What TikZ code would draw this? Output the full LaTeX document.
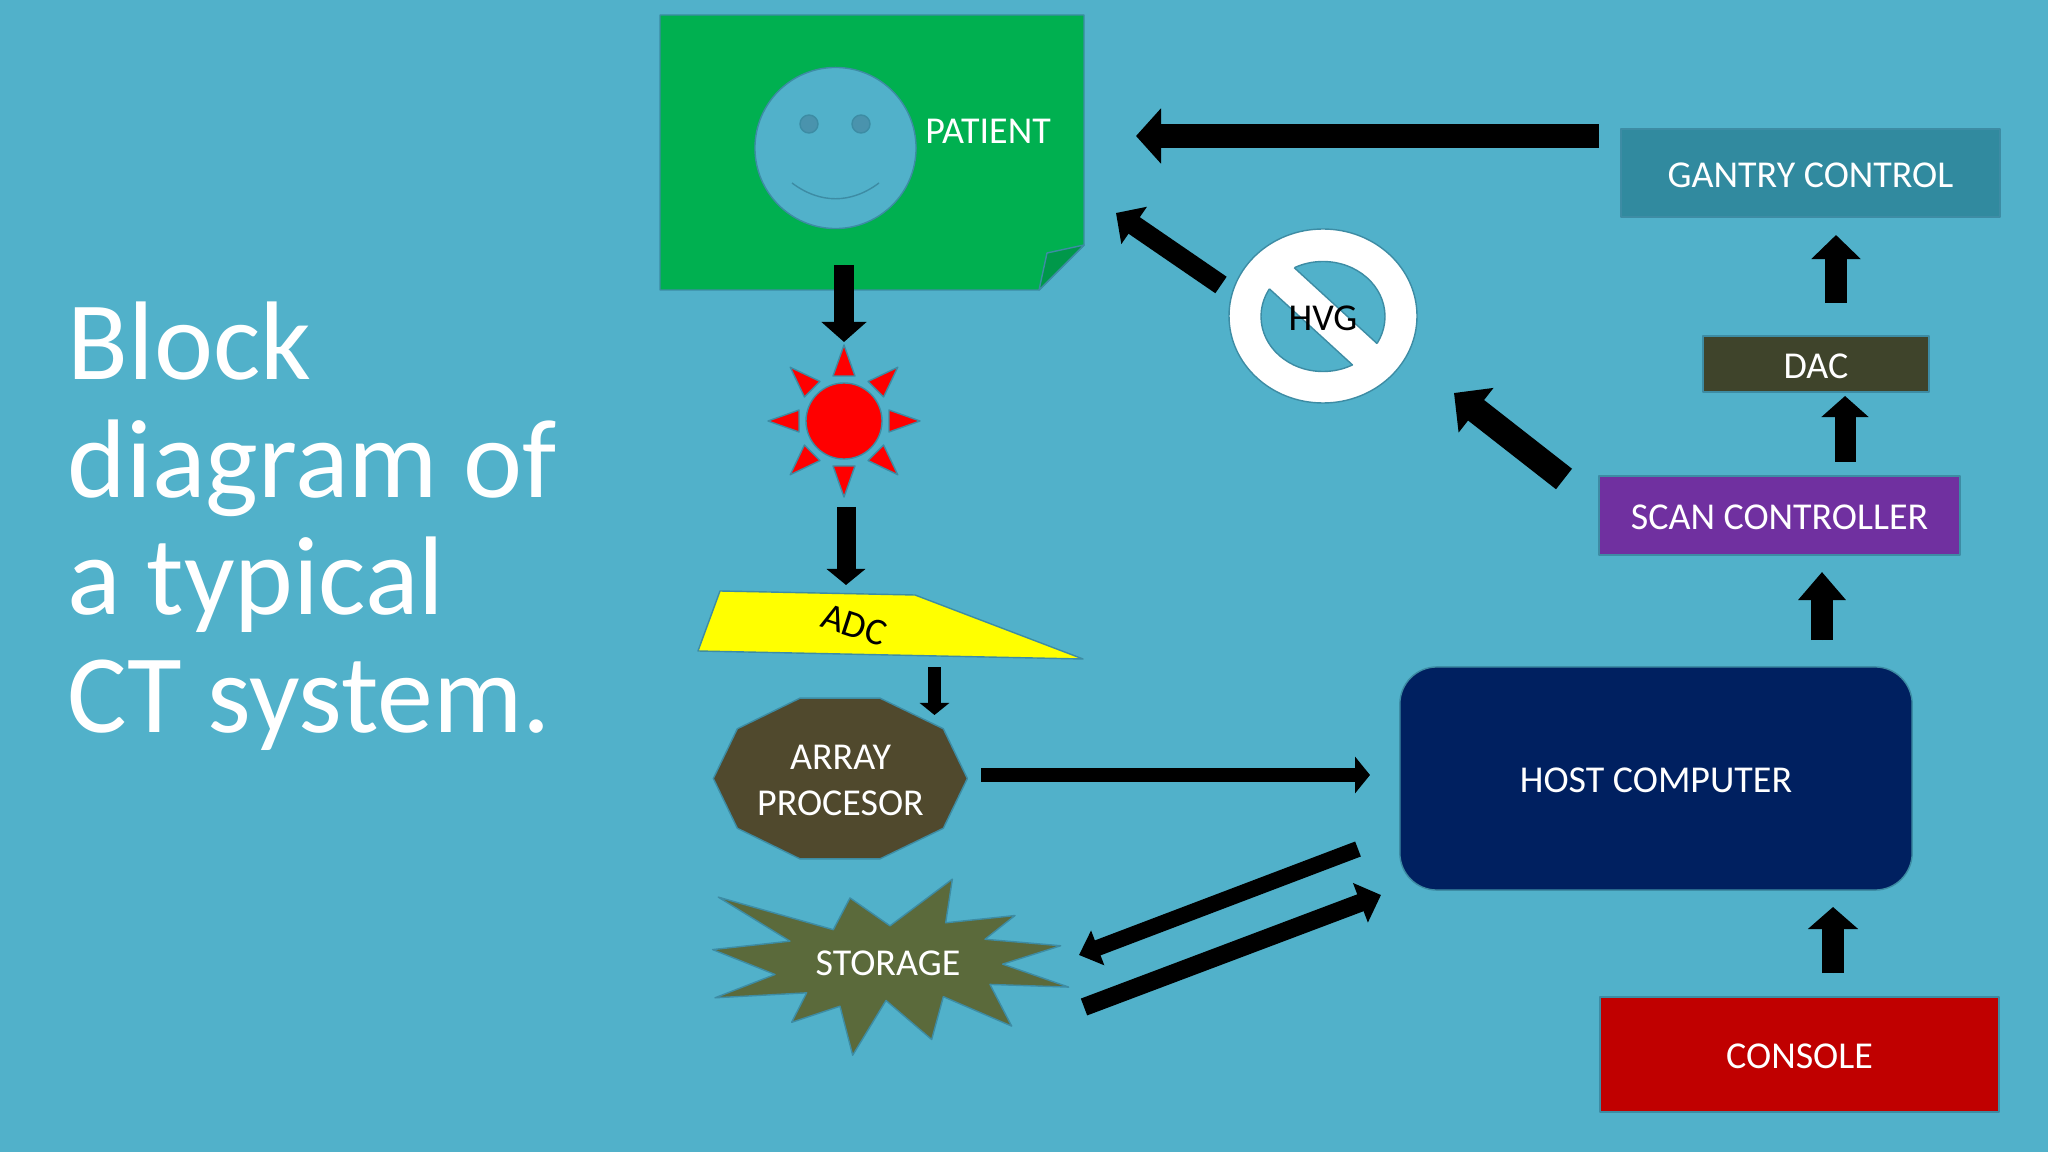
\documentclass[tikz,border=0pt]{standalone}
\usepackage{fontspec}
\setmainfont{Carlito}
\usetikzlibrary{arrows.meta}
\definecolor{bgc}{HTML}{51B1CA}
\definecolor{edgec}{HTML}{3D8CA4}
\definecolor{eyec}{HTML}{4A93AD}
\definecolor{patientc}{HTML}{00B050}
\definecolor{foldc}{HTML}{00984A}
\definecolor{gantryc}{HTML}{318A9F}
\definecolor{dacc}{HTML}{3F442B}
\definecolor{scanc}{HTML}{7030A0}
\definecolor{hostc}{HTML}{002060}
\definecolor{consolec}{HTML}{C00000}
\definecolor{arrayc}{HTML}{50492D}
\definecolor{storagec}{HTML}{5B6A3B}
\definecolor{sunc}{HTML}{FF0000}
\definecolor{adcc}{HTML}{FFFF00}
\tikzset{
  x=0.01cm,y=-0.01cm,
  shapeline/.style={draw=edgec,line width=0.4pt,line join=round},
  boxnode/.style={shapeline,inner sep=0pt,outer sep=0pt,anchor=center},
  lbl/.style={inner sep=0pt,outer sep=0pt,text=white,font=\fontsize{10.8pt}{13pt}\selectfont,align=center},
  blocklabel/.style={boxnode,lbl,draw=edgec,text height=8.2pt,text depth=0pt},
  blockarrow/.style n args={3}{draw=black,fill=black,line width=#1cm,-{Triangle[width=#2cm,length=#3cm]}},
}
\begin{document}
\begin{tikzpicture}
\useasboundingbox (0,0) rectangle (2048,1152);
\fill[bgc] (0,0) rectangle (2048,1152);

% title
\node[anchor=north west,inner sep=0pt,text=white,align=left,font=\fontsize{31.8pt}{33.5pt}\selectfont] (title) at (67,301) {Block\\diagram of\\a typical\\CT system.};

% patient note
\draw[shapeline,fill=patientc] (660,15) -- (1084,15) -- (1084,245) -- (1039,290) -- (660,290) -- cycle;
\draw[shapeline,fill=foldc] (1039,290) -- (1047,253) -- (1084,245) -- cycle;
\node[boxnode,circle,fill=bgc,minimum size=1.61cm] (face) at (835.5,148) {};
\node[boxnode,circle,fill=eyec,minimum size=0.18cm] (eyeL) at (809,124) {};
\node[boxnode,circle,fill=eyec,minimum size=0.18cm] (eyeR) at (861,124) {};
\draw[edgec,line width=0.4pt] (792,183) .. controls (820,204) and (851,204) .. (879,183);
\node[lbl] (patient) at (988,131) {PATIENT};

% sun
\foreach \a in {0,45,...,315}{
  \draw[shapeline,fill=sunc,rotate around={\a:(844,421)}] (844,345) -- (855,376) -- (833,376) -- cycle;
}
\node[boxnode,circle,fill=sunc,minimum size=0.76cm] (sun) at (844,421) {};

% ADC
\draw[shapeline,fill=adcc] (720,591) -- (915,595) -- (1083,659) -- (698,651) -- cycle;
\node[lbl,text=black,rotate=-18] (adc) at (854,625) {ADC};

% array processor and storage
\begin{scope}[shift={(680,480)},xscale=0.33333,yscale=0.3827]
\draw[shapeline,fill=arrayc] (100,780) -- (172,650) -- (360,570) -- (600,570) -- (790,650) -- (862,780) -- (790,910) -- (600,990) -- (360,990) -- (172,910) -- cycle;
\draw[shapeline,fill=storagec] (115,1090) -- (460,1175) -- (510,1092) -- (630,1165) -- (817,1043) -- (797,1157) -- (1005,1138) -- (915,1200) -- (1142,1217) -- (968,1265) -- (1166,1325) -- (930,1318) -- (995,1427) -- (790,1350) -- (755,1462) -- (618,1360) -- (518,1503) -- (480,1375) -- (335,1417) -- (380,1340) -- (105,1353) -- (285,1292) -- (98,1227) -- (330,1205) -- cycle;
\end{scope}
\node[lbl,font=\fontsize{10.8pt}{13.1pt}\selectfont] (array) at (840.5,780) {ARRAY\\PROCESOR};
\node[lbl] (storage) at (888,963) {STORAGE};

% HVG no-symbol
\draw[shapeline,fill=white] (1323,316) ellipse [x radius=94,y radius=87];
\draw[shapeline,fill=bgc] (1323,316.5) ellipse [x radius=62,y radius=55];
\fill[white] (1288,262) -- (1383,349) -- (1358,370) -- (1263,283) -- cycle;
\begin{scope}
\clip (1323,316.5) ellipse [x radius=62,y radius=55];
\draw[edgec,line width=0.4pt] (1288,262) -- (1383,349) (1358,370) -- (1263,283);
\end{scope}
\node[lbl,text=black] (hvg) at (1323,318) {HVG};

% boxes
\node[blocklabel,fill=gantryc,minimum width=3.79cm,minimum height=0.88cm] (gantry) at (1810.5,173) {GANTRY CONTROL};
\node[blocklabel,fill=dacc,minimum width=2.26cm,minimum height=0.56cm] (dac) at (1816,364) {DAC};
\node[blocklabel,fill=scanc,minimum width=3.61cm,minimum height=0.79cm] (scan) at (1779.5,515.5) {SCAN CONTROLLER};
\node[blocklabel,fill=hostc,minimum width=5.12cm,minimum height=2.23cm,rounded corners=0.37cm] (host) at (1656,778.5) {HOST COMPUTER};
\node[blocklabel,fill=consolec,minimum width=3.99cm,minimum height=1.15cm] (console) at (1799.5,1054.5) {CONSOLE};

% connector ends
\coordinate (a1s) at (844,265);   \coordinate (a1e) at (844,342);
\coordinate (a2s) at (846,507);   \coordinate (a2e) at (846,585);
\coordinate (a3s) at (934.5,667); \coordinate (a3e) at (934.5,715);
\coordinate (a4s) at (981,775);   \coordinate (a4e) at (1370,775);
\coordinate (a5s) at (1358,849);  \coordinate (a5e) at (1079,955);
\coordinate (a6s) at (1084,1007); \coordinate (a6e) at (1381,895);
\coordinate (a7s) at (1833,973);  \coordinate (a7e) at (1833,907);
\coordinate (a8s) at (1822,640);  \coordinate (a8e) at (1822,572);
\coordinate (a9s) at (1845,462);  \coordinate (a9e) at (1845,396);
\coordinate (a10s) at (1836,303); \coordinate (a10e) at (1836,235);
\coordinate (a11s) at (1599,136); \coordinate (a11e) at (1136,136);
\coordinate (a12s) at (1221,285); \coordinate (a12e) at (1116,213);
\coordinate (a13s) at (1564,479); \coordinate (a13e) at (1454,393);

\draw[blockarrow={0.20}{0.44}{0.20}] (a1s) -- (a1e);
\draw[blockarrow={0.19}{0.38}{0.16}] (a2s) -- (a2e);
\draw[blockarrow={0.13}{0.29}{0.12}] (a3s) -- (a3e);
\draw[blockarrow={0.14}{0.36}{0.15}] (a4s) -- (a4e);
\draw[blockarrow={0.16}{0.36}{0.20}] (a5s) -- (a5e);
\draw[blockarrow={0.18}{0.41}{0.22}] (a6s) -- (a6e);
\draw[blockarrow={0.22}{0.49}{0.22}] (a7s) -- (a7e);
\draw[blockarrow={0.22}{0.46}{0.28}] (a8s) -- (a8e);
\draw[blockarrow={0.21}{0.46}{0.21}] (a9s) -- (a9e);
\draw[blockarrow={0.22}{0.48}{0.24}] (a10s) -- (a10e);
\draw[blockarrow={0.24}{0.54}{0.25}] (a11s) -- (a11e);
\draw[blockarrow={0.20}{0.44}{0.22}] (a12s) -- (a12e);
\draw[blockarrow={0.26}{0.55}{0.28}] (a13s) -- (a13e);
\end{tikzpicture}
\end{document}
